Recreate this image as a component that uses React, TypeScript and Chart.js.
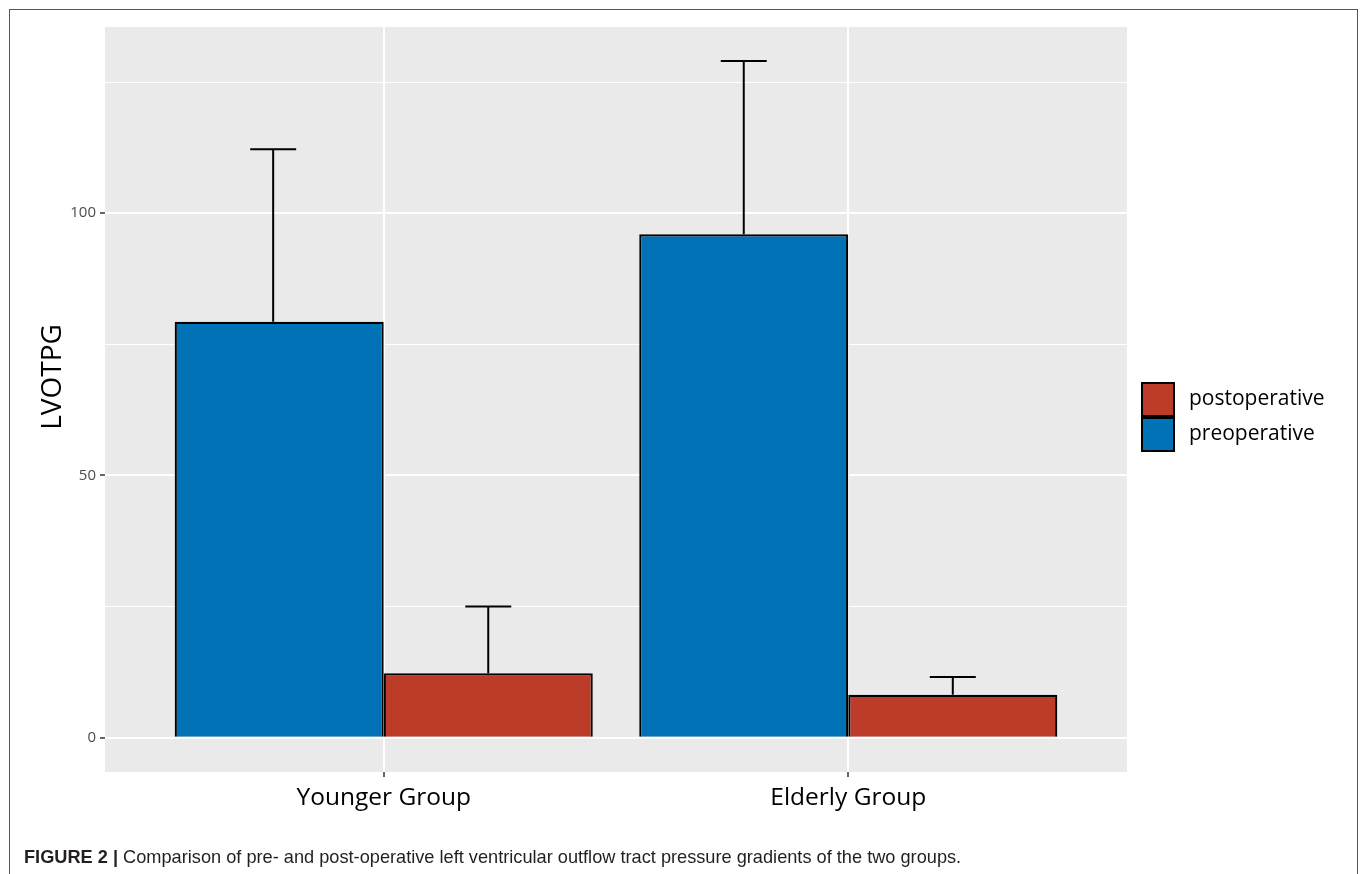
import React, { useEffect, useRef } from "react";
import { Chart, registerables } from "chart.js";

Chart.register(...registerables);

const categories = ["Younger Group", "Elderly Group"];
const seriesNames = ["preoperative", "postoperative"];
const seriesColors = ["#0072B5", "#BC3C29"];
const preMean = [79.3, 96.0];
const preUpper = [112.2, 129.0];
const preErrShift = [-0.013, 0];
const postMean = [12.3, 8.2];
const postUpper = [25.0, 11.6];
const postErrShift = [0, 0];
const yTickValues = [0, 25, 50, 75, 100, 125];
const yLabelStep = 50;
const yTitle = "LVOTPG";
const caption = "Comparison of pre- and post-operative left ventricular outflow tract pressure gradients of the two groups.";
const captionLead = "FIGURE 2 |";

const FONT = "'Open Sans', 'Noto Sans', sans-serif";

const panelBg = {
  id: "panelBg",
  beforeDraw(chart: any) {
    const { ctx, chartArea } = chart;
    ctx.save();
    ctx.fillStyle = "#EAEAEA";
    ctx.fillRect(chartArea.left, chartArea.top, chartArea.right - chartArea.left, chartArea.bottom - chartArea.top);
    ctx.restore();
  },
};

const errorBars = {
  id: "errorBars",
  afterDatasetsDraw(chart: any) {
    const { ctx } = chart;
    const yScale = chart.scales.y;
    const xScale = chart.scales.x;
    chart.data.datasets.forEach((ds: any, i: number) => {
      const meta = chart.getDatasetMeta(i);
      meta.data.forEach((el: any, j: number) => {
        const up = ds.upper[j];
        const yTop = yScale.getPixelForValue(up);
        const dx = xScale.getPixelForValue(1 + ds.errShift[j]) - xScale.getPixelForValue(1);
        const x = el.x + dx;
        const half = el.width * 0.11;
        ctx.save();
        ctx.strokeStyle = "#000";
        ctx.lineWidth = 2;
        ctx.beginPath();
        ctx.moveTo(x, el.y);
        ctx.lineTo(x, yTop);
        ctx.moveTo(x - half, yTop);
        ctx.lineTo(x + half, yTop);
        ctx.stroke();
        ctx.restore();
      });
    });
  },
};

const extras = {
  id: "extras",
  afterDraw(chart: any) {
    const { ctx, chartArea } = chart;
    ctx.save();
    // y axis title
    ctx.translate(53, 377);
    ctx.rotate(-Math.PI / 2);
    ctx.fillStyle = "#000";
    ctx.font = `28px ${FONT}`;
    ctx.textAlign = "center";
    ctx.textBaseline = "middle";
    ctx.fillText(yTitle, 0, 0);
    ctx.restore();

    // legend (reverse order as in reference)
    const keyX = chartArea.right + 15;
    const keyW = 32;
    const keyH = 33;
    const top0 = 383;
    const order = [1, 0];
    ctx.save();
    order.forEach((di, k) => {
      const ds = chart.data.datasets[di];
      const y = top0 + k * (keyH + 2);
      ctx.fillStyle = ds.backgroundColor;
      ctx.fillRect(keyX, y, keyW, keyH);
      ctx.strokeStyle = "#000";
      ctx.lineWidth = 2;
      ctx.strokeRect(keyX, y, keyW, keyH);
      ctx.fillStyle = "#000";
      ctx.font = `21px ${FONT}`;
      ctx.textAlign = "left";
      ctx.textBaseline = "middle";
      ctx.fillText(ds.label, keyX + keyW + 15, y + keyH / 2);
    });
    ctx.restore();
  },
};

export default function App() {
  const canvasRef = useRef<HTMLCanvasElement | null>(null);

  useEffect(() => {
    if (!canvasRef.current) return;
    const chart = new Chart(canvasRef.current, {
      type: "bar",
      data: {
        datasets: [
          {
            label: seriesNames[0],
            data: categories.map((_, i) => ({ x: i + 1, y: preMean[i] })),
            upper: preUpper,
            errShift: preErrShift,
            backgroundColor: seriesColors[0],
            borderColor: "#000",
            borderWidth: 2.2,
          } as any,
          {
            label: seriesNames[1],
            data: categories.map((_, i) => ({ x: i + 1, y: postMean[i] })),
            upper: postUpper,
            errShift: postErrShift,
            backgroundColor: seriesColors[1],
            borderColor: "#000",
            borderWidth: 2.2,
          } as any,
        ],
      },
      options: {
        responsive: false,
        animation: false,
        events: [],
        layout: { padding: { left: 0, top: 27, right: 235, bottom: 0 } },
        datasets: { bar: { categoryPercentage: 0.9, barPercentage: 1.0 } },
        plugins: { legend: { display: false }, tooltip: { enabled: false } },
        scales: {
          x: {
            type: "linear",
            min: 0.4,
            max: 2.6,
            offset: false,
            afterBuildTicks: (s: any) => {
              s.ticks = categories.map((_, i) => ({ value: i + 1 }));
            },
            afterFit: (s: any) => {
              s.height = 102;
            },
            ticks: {
              callback: (v: any) => categories[Math.round(Number(v)) - 1] ?? "",
              font: { family: FONT, size: 24.5 },
              color: "#000",
              padding: 6,
              maxRotation: 0,
              autoSkip: false,
            },
            grid: { offset: false, color: "#FFFFFF", lineWidth: 2, tickColor: "#333333", tickLength: 5, tickWidth: 1.5 },
            border: { display: false },
          },
          y: {
            type: "linear",
            min: -6.53,
            max: 135.5,
            afterBuildTicks: (s: any) => {
              s.ticks = yTickValues.map((v) => ({ value: v }));
            },
            afterFit: (s: any) => {
              s.width = 105;
            },
            ticks: {
              callback: (v: any) => (Number(v) % yLabelStep === 0 ? String(v) : ""),
              font: { family: FONT, size: 15 },
              color: "#4D4D4D",
              padding: 4,
              autoSkip: false,
            },
            grid: {
              color: "#FFFFFF",
              lineWidth: (c: any) => (c.tick && c.tick.value % yLabelStep === 0 ? 2 : 1),
              tickColor: (c: any) => (c.tick && c.tick.value % yLabelStep === 0 ? "#333333" : "rgba(0,0,0,0)"),
              tickLength: 5,
              tickWidth: 1.5,
            },
            border: { display: false },
          },
        },
      },
      plugins: [panelBg, errorBars, extras],
    });
    return () => chart.destroy();
  }, []);

  return (
    <div style={{ position: "fixed", left: 0, top: 0, width: 1362, height: 874, background: "#fff", overflow: "hidden" }}>
      <canvas ref={canvasRef} width={1362} height={874} style={{ position: "absolute", left: 0, top: 0 }} />
      <div
        style={{
          position: "absolute",
          left: 9,
          top: 9,
          width: 1347,
          height: 880,
          borderLeft: "1.5px solid #555",
          borderTop: "1.5px solid #555",
          borderRight: "1.5px solid #555",
          pointerEvents: "none",
        }}
      />
      <div
        style={{
          position: "absolute",
          left: 24,
          top: 847,
          fontFamily: "'Liberation Sans', Arial, sans-serif",
          fontSize: 18.2,
          color: "#231F20",
          whiteSpace: "nowrap",
          lineHeight: "20px",
        }}
      >
        <b>{captionLead}</b> {caption}
      </div>
    </div>
  );
}
